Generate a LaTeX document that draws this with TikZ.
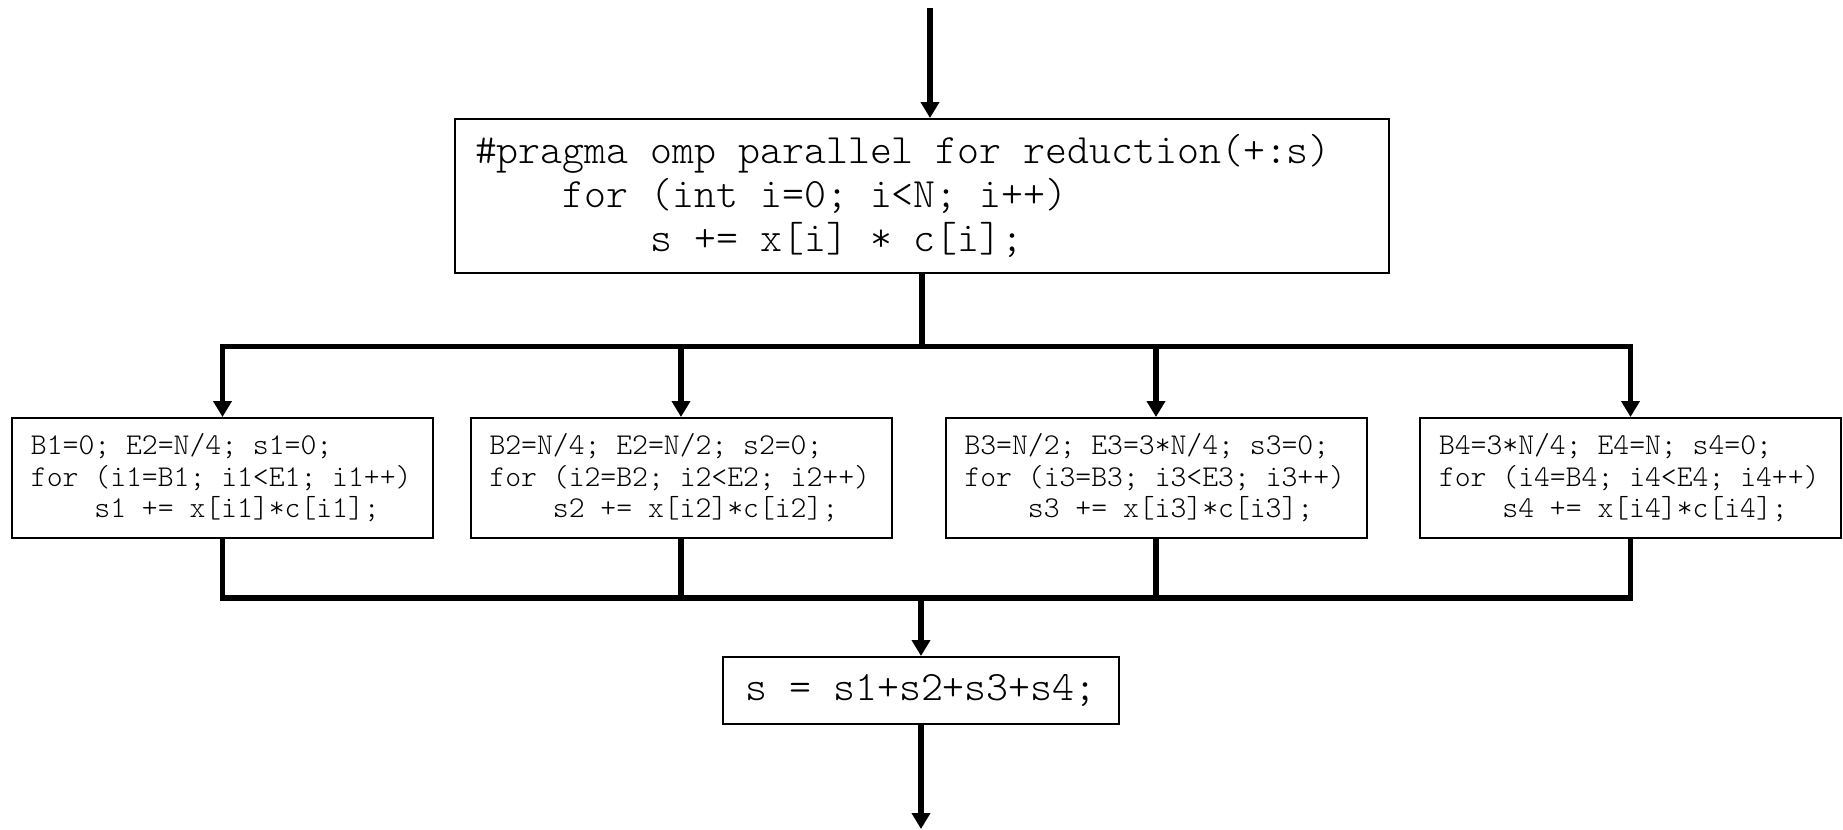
\documentclass[tikz,border=0pt]{standalone}
\usepackage{fontspec}
\usetikzlibrary{arrows.meta}
\newcommand\codeindent[1]{\phantom{#1}}
\newcommand\codefont{\ttfamily\fontseries{l}\selectfont\frenchspacing}
\begin{document}
\begin{tikzpicture}[x=0.5pt,y=-0.5pt,
  box/.style={draw, line width=1pt, inner sep=0pt,
    execute at begin node={\spaceskip=0pt\xspaceskip=0pt}},
  pragmabox/.style={box, align=left, minimum width=467pt, minimum height=77pt,
    text width=447pt, font=\codefont\fontsize{20.9pt}{22pt}\selectfont},
  chunkbox/.style={box, align=left, minimum width=210.5pt, minimum height=60pt,
    text width=191.5pt, font=\codefont\fontsize{15.1pt}{15.75pt}\selectfont},
  sumbox/.style={box, align=center, minimum width=198pt, minimum height=33.5pt,
    font=\codefont\fontsize{20.9pt}{22pt}\selectfont},
  wire/.style={line width=2.6pt},
  bus/.style={line width=2.6pt, line cap=rect},
  flow/.style={line width=2.6pt, -{Triangle[width=9pt,length=8pt]}},
]
\fill[white] (0,0) rectangle (1843,830);
\useasboundingbox (0,0) rectangle (1843,830);

% code blocks
\node[pragmabox] (pragma) at (922,196) {\#pragma omp parallel for reduction(+:s)\\
\codeindent{xxxx}for (int i=0; i<N; i++)\\
\codeindent{xxxxxxxx}s += x[i] * c[i];};

\node[chunkbox] (b1) at (222.5,478) {B1=0; E2=N/4; s1=0;\\
for (i1=B1; i1<E1; i1++)\\
\codeindent{xxxx}s1 += x[i1]*c[i1];};
\node[chunkbox] (b2) at (681,478) {B2=N/4; E2=N/2; s2=0;\\
for (i2=B2; i2<E2; i2++)\\
\codeindent{xxxx}s2 += x[i2]*c[i2];};
\node[chunkbox] (b3) at (1156,478) {B3=N/2; E3=3*N/4; s3=0;\\
for (i3=B3; i3<E3; i3++)\\
\codeindent{xxxx}s3 += x[i3]*c[i3];};
\node[chunkbox] (b4) at (1630.5,478) {B4=3*N/4; E4=N; s4=0;\\
for (i4=B4; i4<E4; i4++)\\
\codeindent{xxxx}s4 += x[i4]*c[i4];};

\node[sumbox] (sum) at (921,690.5) {s = s1+s2+s3+s4;};

% fork and join points
\coordinate (entry) at (930,8);
\coordinate (fork) at (921,346.5);
\coordinate (join) at (921,598);
\coordinate (exit) at (921,829);

% entry arrow
\draw[flow] (entry) -- (entry |- pragma.north);

% fork into four chunks
\draw[wire] (pragma.south) -- (pragma.south |- fork);
\draw[bus] (b1.north |- fork) -- (b4.north |- fork);
\foreach \b in {b1,b2,b3,b4}
  \draw[flow] (\b.north |- fork) -- (\b.north);

% join of partial sums
\foreach \b in {b1,b2,b3,b4}
  \draw[wire] (\b.south) -- (\b.south |- join);
\draw[bus] (b1.south |- join) -- (b4.south |- join);
\draw[flow] (join) -- (sum.north);

% exit arrow
\draw[flow] (sum.south) -- (exit);
\end{tikzpicture}
\end{document}
